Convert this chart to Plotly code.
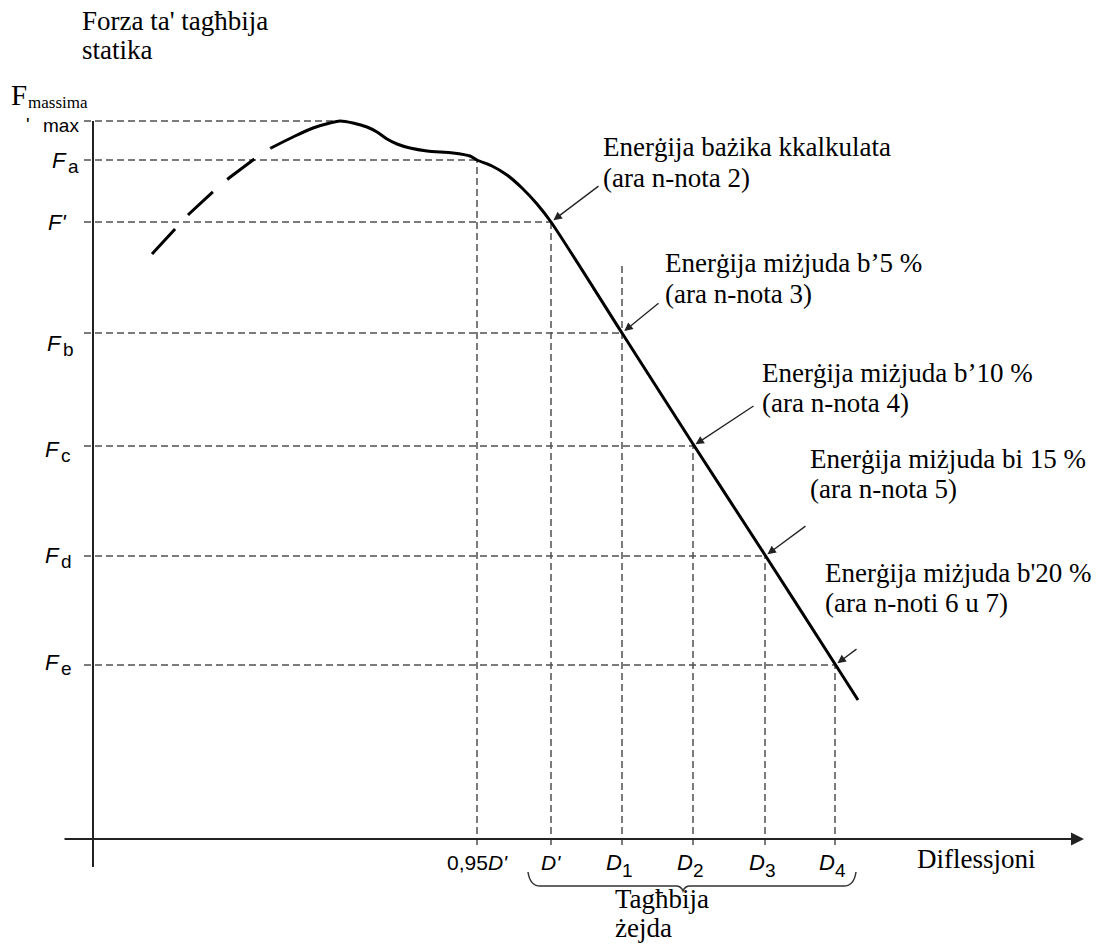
import plotly.graph_objects as go

# ---------------- data (x: deflection units, y: force units) ----------------
force_names = ["F_max", "F_a", "F'", "F_b", "F_c", "F_d", "F_e"]
force_levels = [717, 678, 616, 505, 392, 282, 173]

defl_names = ["0,95D'", "D'", "D1", "D2", "D3", "D4"]
defl_levels = [384, 458, 529, 600, 672, 742]
d1_guide_top = 576

# extrapolated (dashed) start of the curve
curve_dash_x = [59, 82, 96, 122, 136, 164, 178]
curve_dash_y = [584, 609, 624, 648, 660, 681, 690]

# measured (solid) curve
curve_x = [178, 200, 220, 237, 247, 260, 274, 284, 294, 304, 317, 334, 360, 377, 384,
           399, 414, 429, 444, 458, 529, 600, 672, 742, 765]
curve_y = [690, 701, 710, 715, 717, 715, 711, 706, 699, 694, 690, 687, 685, 682, 678,
           672, 663, 650, 634, 616, 505, 394, 283, 174, 138]

callout_lines = [
    ["Enerġija bażika kkalkulata", "(ara n-nota 2)"],
    ["Enerġija miżjuda b’5 %", "(ara n-nota 3)"],
    ["Enerġija miżjuda b’10 %", "(ara n-nota 4)"],
    ["Enerġija miżjuda bi 15 %", "(ara n-nota 5)"],
    ["Enerġija miżjuda b'20 %", "(ara n-noti 6 u 7)"],
]

y_title_lines = ["Forza ta' tagħbija", "statika"]
x_title = "Diflessjoni"
brace_lines = ["Tagħbija", "żejda"]

# ---------------- layout helpers ----------------
W, H = 1097, 946
OX, OY = 93, 838           # pixel position of the origin
def X(px): return px - OX
def Y(py): return OY - py

SERIF = "Liberation Serif, Times New Roman, serif"
SANS = "Liberation Sans, Arial, sans-serif"
GRID = "#505050"

fig = go.Figure()

# horizontal guide lines (force levels -> curve)
peak_x = curve_x[curve_y.index(max(curve_y))]
h_ends = [peak_x] + defl_levels
for lvl, xe in zip(force_levels, h_ends):
    fig.add_trace(go.Scatter(x=[X(84), xe], y=[lvl, lvl], mode="lines",
                             line=dict(color=GRID, width=1.5, dash="7px,4px"),
                             hoverinfo="skip", showlegend=False))

# vertical guide lines (deflection levels -> curve)
v_tops = force_levels[1:3] + [d1_guide_top] + force_levels[4:]
for xv, yt in zip(defl_levels, v_tops):
    fig.add_trace(go.Scatter(x=[xv, xv], y=[Y(845), yt], mode="lines",
                             line=dict(color=GRID, width=1.5, dash="7px,4px"),
                             hoverinfo="skip", showlegend=False))

# y axis line
fig.add_trace(go.Scatter(x=[0, 0], y=[Y(867), Y(121)], mode="lines",
                         line=dict(color="#222", width=2), hoverinfo="skip", showlegend=False))

# curve
fig.add_trace(go.Scatter(x=curve_dash_x, y=curve_dash_y, mode="lines",
                         line=dict(color="black", width=3, dash="34px,19px"),
                         hoverinfo="skip", showlegend=False))
fig.add_trace(go.Scatter(x=curve_x, y=curve_y, mode="lines", line_shape="spline",
                         line=dict(color="black", width=3, smoothing=0.8),
                         hoverinfo="skip", showlegend=False))

ann = []

# x axis with arrow
ann.append(dict(x=X(1084), y=Y(839), ax=X(63), ay=Y(839), xref="x", yref="y",
                axref="x", ayref="y", text="", showarrow=True, arrowhead=2,
                arrowsize=1.3, arrowwidth=2, arrowcolor="#222"))

# callout arrows to curve points
pts = list(zip(defl_levels[1:], force_levels[2:]))
tails = [(49, -37), (38, -31), (62, -41), (42, -31), (23, -17)]
for (px_, py_), (dx, dy) in zip(pts, tails):
    ann.append(dict(x=px_, y=py_, ax=dx, ay=dy, xref="x", yref="y", text="",
                    showarrow=True, arrowhead=2, arrowsize=1.3, arrowwidth=1.3,
                    arrowcolor="#222", standoff=3))

def text_at(txt, left, baseline, size, family, anchor="left"):
    ann.append(dict(x=X(left), y=Y(baseline - 0.34 * size), xref="x", yref="y",
                    text=txt, showarrow=False, xanchor=anchor, yanchor="middle",
                    font=dict(family=family, size=size, color="black")))

# callout texts
callout_pos = [(601, 156, 187), (663, 272, 303), (760, 382, 412), (808, 468, 498), (823, 582, 612)]
for lines, (lx, b1, b2) in zip(callout_lines, callout_pos):
    text_at(lines[0], lx, b1, 27, SERIF)
    text_at(lines[1], lx, b2, 27, SERIF)

# titles
text_at(y_title_lines[0], 80, 30, 27, SERIF)
text_at(y_title_lines[1], 80, 59, 27, SERIF)
text_at(x_title, 915, 868, 27, SERIF)
text_at(brace_lines[0], 613, 908, 27, SERIF)
text_at(brace_lines[1], 613, 937, 27, SERIF)

# F massima
text_at("F", 9, 105, 29, SERIF)
text_at("massima", 26, 108, 17, SERIF)
text_at("max", 41, 132, 19, SANS)
text_at("'", 24, 131, 19, SANS)

# force tick labels: italic F right-anchored, subscript left of it
f_right = [None, 67, 68, 62, 60, 60, 60]
f_base = [None, 168, 230, 351, 457, 563, 670]
for name, fr, fb in zip(force_names, f_right, f_base):
    if fr is None:
        continue
    if name == "F'":
        text_at("<i>F'</i>", fr, fb, 22, SANS, anchor="right")
        continue
    text_at("<i>F</i>", fr + 2, fb, 22, SANS, anchor="right")
    text_at(name.split("_")[1], fr - 1, fb + 5, 19, SANS)

# deflection tick labels
for name, xv in zip(defl_names, defl_levels):
    if name == "0,95D'":
        text_at("0,95<i>D'</i>", xv + OX, 870, 21, SANS, anchor="center")
    elif name == "D'":
        text_at("<i>D'</i>", xv + OX, 870, 21, SANS, anchor="center")
    else:
        text_at("<i>D</i>", xv + OX + 2, 870, 22, SANS, anchor="right")
        text_at(name[1:], xv + OX - 2, 877, 19, SANS)

# brace under D' .. D4
bl, br, bm = defl_levels[1] - 23, defl_levels[-1] + 21, 590
yt, yb, ytip = Y(872), Y(886), Y(891)
brace_path = (f"M {bl},{yt} Q {bl+2},{yb} {bl+12},{yb} L {bm-7},{yb} "
              f"Q {bm-2},{yb} {bm},{ytip} Q {bm+2},{yb} {bm+7},{yb} "
              f"L {br-12},{yb} Q {br-2},{yb} {br},{yt}")
shapes = [dict(type="path", path=brace_path, xref="x", yref="y",
               line=dict(color="#333", width=1.5))]

fig.update_layout(
    width=W, height=H, margin=dict(l=0, r=0, t=0, b=0),
    paper_bgcolor="white", plot_bgcolor="white",
    xaxis=dict(range=[X(0), X(W)], visible=False, fixedrange=True),
    yaxis=dict(range=[Y(H), Y(0)], visible=False, fixedrange=True),
    annotations=ann, shapes=shapes, showlegend=False,
)

fig.write_html("out.html", config={"displayModeBar": False},
               post_script="document.body.style.margin='0px';document.body.style.overflow='hidden';")
